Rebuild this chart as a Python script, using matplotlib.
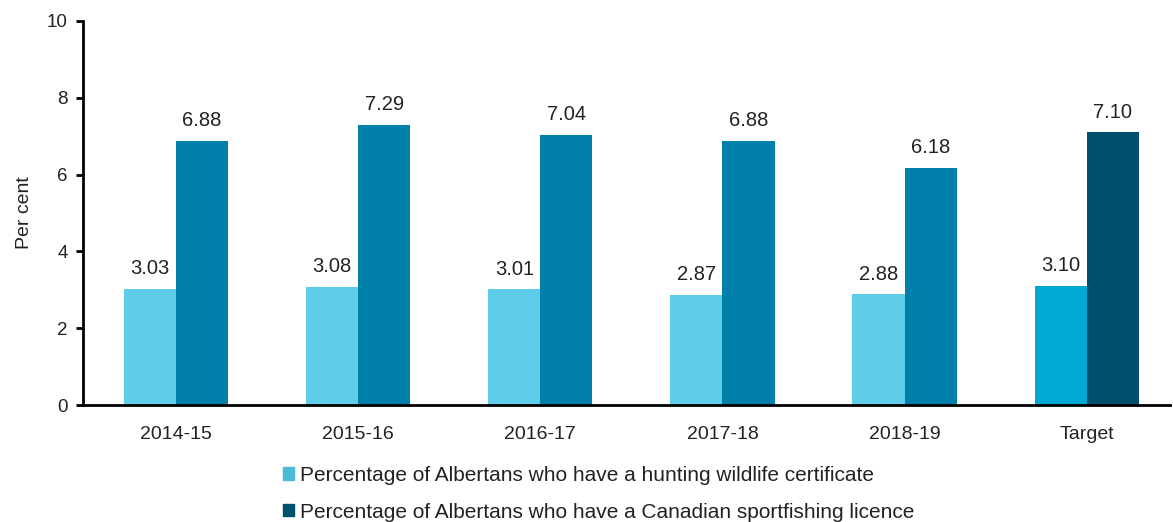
import matplotlib
matplotlib.use("Agg")
import matplotlib.pyplot as plt
from matplotlib.patches import Patch
import numpy as np

plt.rcParams['font.family'] = ['Liberation Sans', 'DejaVu Sans']

years = ['2014-15', '2015-16', '2016-17', '2017-18', '2018-19', 'Target']
hunting = [3.03, 3.08, 3.01, 2.87, 2.88, 3.10]
fishing = [6.88, 7.29, 7.04, 6.88, 6.18, 7.10]

hunt_label = 'Percentage of Albertans who have a hunting wildlife certificate'
fish_label = 'Percentage of Albertans who have a Canadian sportfishing licence'

# last group (Target) gets its own darker shades
c_hunt = ['#5ECDE9'] * 5 + ['#00A9D3']
c_fish = ['#0080A8'] * 5 + ['#004F6E']

fig = plt.figure(figsize=(11.73, 5.22), dpi=100)
ax = fig.add_axes([0.0708, 0.224, 0.927, 0.736])

x = np.arange(len(years))
w = 0.286
b1 = ax.bar(x - w / 2, hunting, w, color=c_hunt)
b2 = ax.bar(x + w / 2, fishing, w, color=c_fish)

for bars, vals in [(b1, hunting), (b2, fishing)]:
    for b, v in zip(bars, vals):
        ax.text(b.get_x() + b.get_width() / 2, v + 0.28, f'{v:.2f}',
                ha='center', va='bottom', fontsize=14.5, color='#222222')

ax.set_xlim(-0.511, 5.46)
ax.set_ylim(0, 10)
ax.set_yticks(range(0, 11, 2))
ax.set_xticks(x)
ax.set_xticklabels(years)
ax.tick_params(axis='x', length=0, labelsize=14, pad=15, labelcolor='#222222')
ax.tick_params(axis='y', length=5, width=2, labelsize=13.5, pad=6, labelcolor='#222222')
ax.set_ylabel('Per cent', fontsize=14, labelpad=10, color='#222222')

for s in ['top', 'right']:
    ax.spines[s].set_visible(False)
ax.spines['left'].set_linewidth(2)
ax.spines['bottom'].set_linewidth(2)

handles = [Patch(color='#4DBAD6'), Patch(color='#00506E')]
fig.legend(handles, [hunt_label, fish_label], loc='lower left',
           bbox_to_anchor=(0.225, -0.035), frameon=False, fontsize=15,
           handlelength=0.55, handleheight=0.55, handletextpad=0.3,
           labelspacing=0.86, labelcolor='#222222')

fig.savefig('out.png', dpi=100)
